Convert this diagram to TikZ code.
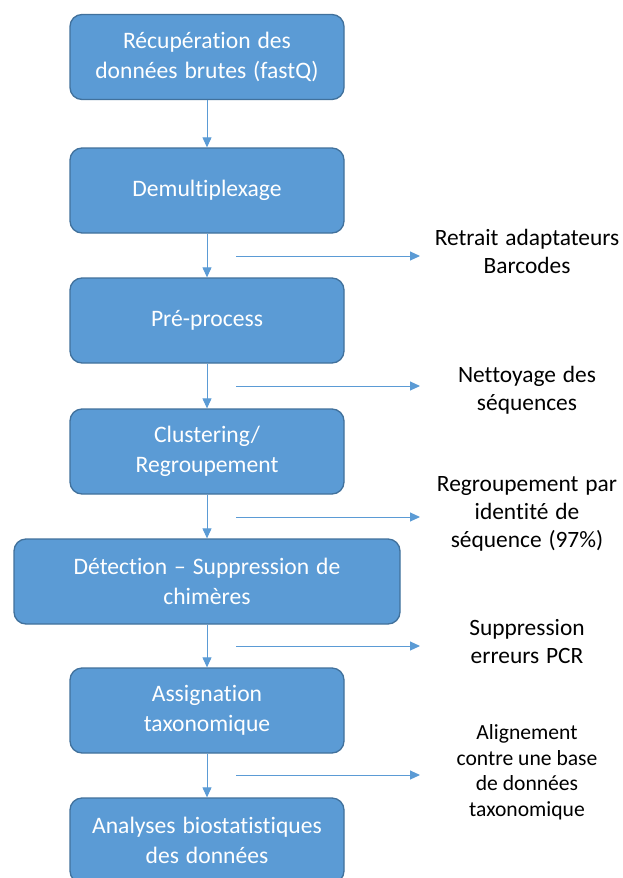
\documentclass[tikz,border=0pt]{standalone}
\usepackage{fontspec}
\setmainfont{Carlito}[Ligatures=NoCommon]
\newfontfamily\boxfont{Carlito}[Ligatures=NoCommon, WordSpace=1.45]
\newfontfamily\notefont{Carlito}[Ligatures=NoCommon, WordSpace=1.3]
\usetikzlibrary{arrows.meta}
\definecolor{boxfill}{HTML}{5B9BD5}
\definecolor{boxline}{HTML}{41719C}
\definecolor{arrowcol}{HTML}{5B9BD5}
\begin{document}
\begin{tikzpicture}[x=1pt,y=-1pt,
  stepbox/.style={draw=boxline, line width=1.3pt, fill=boxfill, rounded corners=12pt,
    text=white, align=center, inner sep=0pt, minimum height=85pt,
    font=\boxfont\fontsize{23.6}{29.5}\selectfont},
  note/.style={align=center, text=black, inner sep=0pt,
    font=\notefont\fontsize{23.4}{28}\selectfont},
  smallnote/.style={align=center, text=black, inner sep=0pt,
    font=\fontsize{21.6}{25.5}\selectfont},
  flow/.style={draw=arrowcol, line width=1pt,
    -{Triangle[length=10pt,width=9pt]}}]
% page frame
\fill[white] (0,0) rectangle (622,878);
\useasboundingbox (0,0) rectangle (622,878);
\clip (0,0) rectangle (622,878);

% processing steps
\node[stepbox, minimum width=274pt] (s1) at (207,57) {Récupération des\\données brutes (fastQ)};
\node[stepbox, minimum width=274pt] (s2) at (207,190.5) {Demultiplexage};
\node[stepbox, minimum width=274pt] (s3) at (207,320.5) {Pré-process};
\node[stepbox, minimum width=274pt] (s4) at (207,451.5) {Clustering/\\Regroupement};
\node[stepbox, minimum width=386pt] (s5) at (207,581.5) {Détection – Suppression de\\chimères};
\node[stepbox, minimum width=274pt] (s6) at (207,710.5) {Assignation\\taxonomique};
\node[stepbox, minimum width=274pt] (s7) at (207,840.5) {Analyses biostatistiques\\des données};

% main flow
\draw[flow] (s1) -- (s2);
\draw[flow] (s2) -- (s3);
\draw[flow] (s3) -- (s4);
\draw[flow] (s4) -- (s5);
\draw[flow] (s5) -- (s6);
\draw[flow] (s6) -- (s7);

% side descriptions
\node[note] (n1) at (527,251) {Retrait adaptateurs\\Barcodes};
\node[note] (n2) at (527,390) {Nettoyage des\\séquences};
\node[note] (n3) at (527,513.5) {Regroupement par\\identité de\\séquence (97\%)};
\node[note] (n4) at (527,642) {Suppression\\erreurs PCR};
\node[smallnote] (n5) at (527,772) {Alignement\\contre une base\\de données\\taxonomique};

% side arrows
\coordinate (a1) at (236,256);
\coordinate (a2) at (236,386);
\coordinate (a3) at (236,517);
\coordinate (a4) at (236,646);
\coordinate (a5) at (236,775);
\draw[flow] (a1) -- (420,256);
\draw[flow] (a2) -- (420,386);
\draw[flow] (a3) -- (420,517);
\draw[flow] (a4) -- (420,646);
\draw[flow] (a5) -- (420,775);
\end{tikzpicture}
\end{document}
